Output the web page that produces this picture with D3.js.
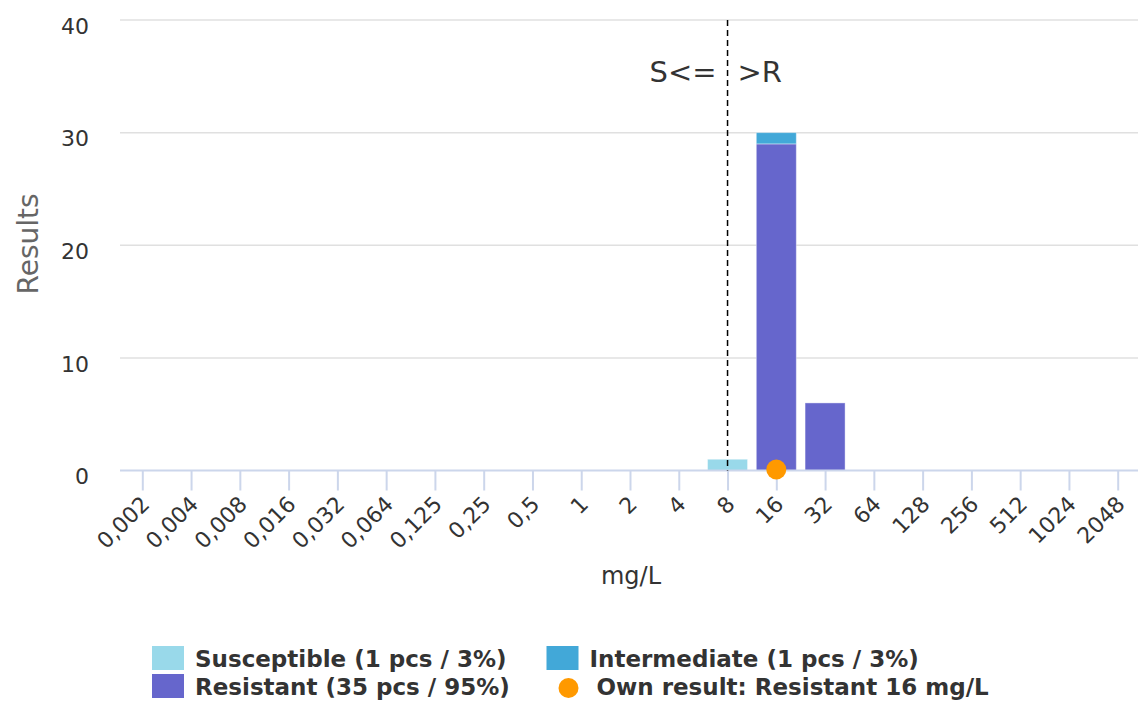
<!DOCTYPE html>
<html>
<head>
<meta charset="utf-8">
<script src="https://cdn.jsdelivr.net/npm/d3@7"></script>
<style>
  html, body { margin: 0; padding: 0; background: #fff; }
  svg { display: block; font-family: "DejaVu Sans", sans-serif; }
</style>
</head>
<body>
<svg id="chart" width="1138" height="713"></svg>
<script>
// ---- data ----
const categories = ["0,002","0,004","0,008","0,016","0,032","0,064","0,125","0,25","0,5","1","2","4","8","16","32","64","128","256","512","1024","2048"];
const susceptible = [0,0,0,0,0,0,0,0,0,0,0,0,1,0,0,0,0,0,0,0,0];
const intermediate = [0,0,0,0,0,0,0,0,0,0,0,0,0,1,0,0,0,0,0,0,0];
const resistant = [0,0,0,0,0,0,0,0,0,0,0,0,0,29,6,0,0,0,0,0,0];
const ownResult = {category: "16", value: 0};
const breakpoint = "8";
const yTicks = [0, 10, 20, 30, 40];
const seriesNames = ["Susceptible (1 pcs / 3%)", "Intermediate (1 pcs / 3%)", "Resistant (35 pcs / 95%)", "Own result: Resistant 16 mg/L"];
const colors = {S: "#99d9ea", I: "#42a8d8", R: "#6666cc", own: "#ff9900"};

const svg = d3.select("#chart");
const plotLeft = 120, plotRight = 1138, plotTop = 20, plotBottom = 470.5;

const x = d3.scalePoint().domain(categories).range([142.3, 1117.7]);
const y = d3.scaleLinear().domain([0, 40]).range([plotBottom, plotTop]);
const barW = 40;

// gridlines
svg.append("g").selectAll("line").data(yTicks.filter(d => d > 0)).join("line")
  .attr("x1", plotLeft).attr("x2", plotRight)
  .attr("y1", d => y(d)).attr("y2", d => y(d))
  .attr("stroke", "#e0e0e0").attr("stroke-width", 1.5);

// y axis labels
const yAxis = d3.axisLeft(y).tickValues(yTicks).tickSize(0).tickPadding(0);
const yg = svg.append("g").attr("transform", `translate(89,0)`).call(yAxis);
yg.select(".domain").remove();
yg.selectAll("text").attr("font-size", 22).attr("fill", "#333").attr("font-family", "DejaVu Sans")
  .attr("dy", "0.6em").attr("text-anchor", "end");

// y axis title
svg.append("text").attr("transform", "translate(38,244) rotate(-90)")
  .attr("text-anchor", "middle").attr("font-size", 28).attr("fill", "#666").text("Results");

// stacked bars
const stackData = categories.map((c, i) => ({cat: c, S: susceptible[i], I: intermediate[i], R: resistant[i]}));
const stack = d3.stack().keys(["R", "I", "S"])(stackData);
svg.append("g").selectAll("g").data(stack).join("g")
  .attr("fill", d => colors[d.key])
  .selectAll("rect").data(d => d.filter(p => p[1] - p[0] > 0)).join("rect")
  .attr("x", d => x(d.data.cat) - barW / 2)
  .attr("width", barW)
  .attr("y", d => y(d[1]))
  .attr("height", d => y(d[0]) - y(d[1]))
  .attr("stroke", "#fff").attr("stroke-opacity", 0.4).attr("stroke-width", 1);

// x axis
const xAxis = d3.axisBottom(x).tickSize(20).tickPadding(0);
const xg = svg.append("g").attr("transform", `translate(0,${plotBottom})`).call(xAxis);
xg.select(".domain").attr("d", `M${plotLeft},0H${plotRight}`).attr("stroke", "#ccd6eb").attr("stroke-width", 2);
xg.selectAll(".tick line").attr("stroke", "#ccd6eb").attr("stroke-width", 2);
xg.selectAll(".tick text")
  .attr("font-size", 22).attr("fill", "#333").attr("font-family", "DejaVu Sans")
  .attr("text-anchor", "end").attr("dy", 0).attr("y", 0)
  .attr("transform", "translate(8,35) rotate(-45)");

// x axis title
svg.append("text").attr("x", 631).attr("y", 584).attr("text-anchor", "middle")
  .attr("font-size", 24).attr("fill", "#333").text("mg/L");

// breakpoint plot line
const bx = x(breakpoint);
svg.append("line").attr("x1", bx).attr("x2", bx).attr("y1", plotTop).attr("y2", plotBottom)
  .attr("stroke", "#000").attr("stroke-width", 1.5).attr("stroke-dasharray", "6,4");
svg.append("text").attr("x", bx - 11).attr("y", 82).attr("text-anchor", "end")
  .attr("font-size", 29).attr("fill", "#333").text("S<=");
svg.append("text").attr("x", bx + 10).attr("y", 82).attr("text-anchor", "start")
  .attr("font-size", 29).attr("fill", "#333").text(">R");

// own result
svg.append("circle").attr("cx", x(ownResult.category)).attr("cy", y(ownResult.value) - 1)
  .attr("r", 10).attr("fill", colors.own);

// legend
const legend = [
  {name: seriesNames[0], color: colors.S, type: "rect", x: 152, y: 646},
  {name: seriesNames[1], color: colors.I, type: "rect", x: 546.5, y: 646},
  {name: seriesNames[2], color: colors.R, type: "rect", x: 152, y: 674},
  {name: seriesNames[3], color: colors.own, type: "circle", x: 546.5, y: 674}
];
const lg = svg.append("g").selectAll("g").data(legend).join("g")
  .attr("transform", d => `translate(${d.x},${d.y})`);
lg.filter(d => d.type === "rect").append("rect")
  .attr("width", 32).attr("height", 24).attr("fill", d => d.color);
lg.filter(d => d.type === "circle").append("circle")
  .attr("cx", 22).attr("cy", 14).attr("r", 10).attr("fill", d => d.color);
lg.append("text").attr("x", d => d.type === "rect" ? 43 : 50).attr("y", 21)
  .attr("font-size", 23).attr("font-weight", "bold").attr("fill", "#333")
  .text(d => d.name);
</script>
</body>
</html>
